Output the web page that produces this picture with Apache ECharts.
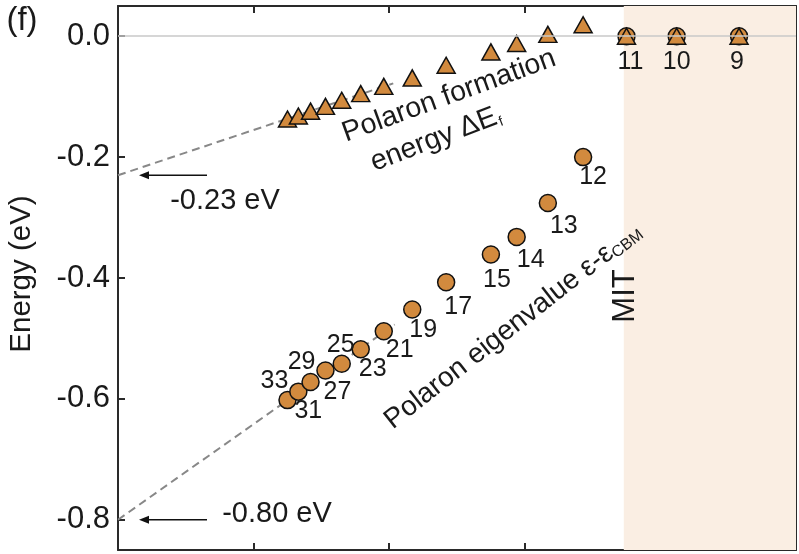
<!DOCTYPE html>
<html>
<head>
<meta charset="utf-8">
<script src="https://cdn.jsdelivr.net/npm/echarts@6/dist/echarts.min.js"></script>
<style>
  html, body { margin: 0; padding: 0; background: #fff; }
  #chart { width: 799px; height: 554px; }
</style>
</head>
<body>
<div id="chart"></div>
<script>
// Supercell sizes N and their inverse-size coordinate (hidden x scale)
const cellSizes   = [33, 31, 29, 27, 25, 23, 21, 19, 17, 15, 14, 13, 12, 11, 10, 9];
const inverseSize = [1.25, 1.33, 1.42, 1.53, 1.65, 1.79, 1.96, 2.17, 2.42, 2.75, 2.94, 3.17, 3.43, 3.75, 4.12, 4.58];
// Polaron formation energy ΔE_f (eV)
const formationEnergy = [-0.137, -0.132, -0.124, -0.116, -0.106, -0.095, -0.083, -0.069, -0.048, -0.026, -0.012, 0.003, 0.019, 0, 0, 0];
// Polaron eigenvalue ε-ε_CBM (eV)
const eigenvalue = [-0.602, -0.588, -0.572, -0.553, -0.542, -0.518, -0.488, -0.452, -0.407, -0.361, -0.332, -0.276, -0.200, 0, 0, 0];
// Linear extrapolations to infinite cell size
const fitFormation = [[0, -0.23], [2.03, -0.078]];
const fitEigen     = [[0, -0.80], [2.04, -0.477]];
const yTicks = [0, -0.2, -0.4, -0.6, -0.8];
const mitStart = 3.73;
const xMax = 5;

// label placement around each circle (px offsets)
const labelOffsets = [[-13, -19], [10, 19], [-9, -20], [12, 22], [-1, -19], [12, 20], [16, 19], [11, 21],
                      [12, 25], [6, 26], [14, 23], [16, 23], [10, 20], [4, 26], [0, 26], [-2, 26]];

const FONT = 'Liberation Sans, Arial, Helvetica, sans-serif';
const ORANGE = '#d28a3e';
const INK = '#1a1a1a';

const chart = echarts.init(document.getElementById('chart'), null, { renderer: 'canvas' });

const frameAxis = {
  axisLine: { show: true, onZero: false, lineStyle: { color: '#2a2a2a', width: 2 } },
  splitLine: { show: false }
};

const xBase = Object.assign({}, frameAxis, {
  type: 'value', min: 0, max: xMax, interval: 1,
  axisTick: { show: true, inside: true, length: 7, lineStyle: { color: '#2a2a2a', width: 2 } },
  axisLabel: { show: false }
});
const yBase = Object.assign({}, frameAxis, {
  type: 'value', min: -0.85, max: 0.05,
  axisTick: { show: true, inside: true, length: 7, customValues: yTicks, lineStyle: { color: '#2a2a2a', width: 2 } }
});

const circleData = inverseSize.map((x, i) => ({
  value: [x, eigenvalue[i]],
  label: { offset: labelOffsets[i] }
}));
const triangleData = inverseSize.map((x, i) => [x, formationEnergy[i]]);

chart.setOption({
  animation: false,
  grid: { left: 118, right: 3, top: 6, bottom: 4, containLabel: false },
  xAxis: [
    Object.assign({}, xBase, { position: 'bottom' }),
    Object.assign({}, xBase, { position: 'top' })
  ],
  yAxis: [
    Object.assign({}, yBase, {
      position: 'left',
      axisLabel: {
        show: true, customValues: yTicks, margin: 8,
        fontFamily: FONT, fontSize: 31, color: INK,
        formatter: v => (Math.abs(v) < 1e-9 ? '0.0' : v.toFixed(1))
      }
    }),
    Object.assign({}, yBase, { position: 'right', axisLabel: { show: false } })
  ],
  series: [
    {
      // metal-insulator transition region
      type: 'line', data: [], z: 0, silent: true,
      markArea: {
        silent: true,
        itemStyle: { color: '#faeee3' },
        data: [[{ xAxis: mitStart, yAxis: -0.85 }, { xAxis: xMax, yAxis: 0.05 }]]
      }
    },
    {
      type: 'line', data: [], z: 1, silent: true,
      markLine: {
        silent: true, symbol: 'none', label: { show: false },
        lineStyle: { color: '#c9c9c9', type: 'solid', width: 1.5 },
        data: [{ yAxis: 0 }]
      }
    },
    {
      type: 'line', data: fitFormation, z: 2, symbol: 'none', silent: true,
      lineStyle: { color: '#888', width: 2, type: [8, 5] }
    },
    {
      type: 'line', data: fitEigen, z: 2, symbol: 'none', silent: true,
      lineStyle: { color: '#888', width: 2, type: [8, 5] }
    },
    {
      name: 'eigenvalue', type: 'scatter', z: 3,
      symbol: 'circle', symbolSize: 17,
      itemStyle: { color: ORANGE, borderColor: '#111', borderWidth: 1.5, opacity: 1 },
      label: {
        show: true, position: 'inside',
        fontFamily: FONT, fontSize: 25, color: INK,
        formatter: p => String(cellSizes[p.dataIndex])
      },
      data: circleData
    },
    {
      name: 'formation', type: 'scatter', z: 4,
      symbol: 'triangle', symbolSize: [18, 16],
      itemStyle: { color: ORANGE, borderColor: '#111', borderWidth: 1.5, opacity: 1 },
      data: triangleData
    }
  ]
});

// annotations
const yPx = v => chart.convertToPixel({ yAxisIndex: 0 }, v);
const xPx = v => chart.convertToPixel({ xAxisIndex: 0 }, v);
const y023 = yPx(-0.23);
const y080 = yPx(-0.80);
const ax0 = xPx(0);

function arrow(y) {
  return [
    { type: 'line', z: 50, shape: { x1: ax0 + 28, y1: y, x2: ax0 + 89, y2: y }, style: { stroke: '#111', lineWidth: 1.5 } },
    { type: 'polygon', z: 50, shape: { points: [[ax0 + 21, y], [ax0 + 31, y - 4], [ax0 + 31, y + 4]] }, style: { fill: '#111' } }
  ];
}
const txt = (x, y, text, size, rot, extra) => ({
  type: 'text', z: 50, x: x, y: y, rotation: rot || 0,
  style: Object.assign({ text: text, fontFamily: FONT, fontSize: size, fill: INK, align: 'center', verticalAlign: 'middle' }, extra || {})
});
const deg = d => d * Math.PI / 180;

chart.setOption({
  graphic: [
    txt(22, 21, '(f)', 33),
    txt(22, 274, 'Energy (eV)', 29.5, Math.PI / 2),
    txt(225, y023 + 26, '-0.23 eV', 29),
    txt(277, y080 - 6, '-0.80 eV', 29),
    ...arrow(y023),
    ...arrow(y080),
    txt(449, 96, 'Polaron formation', 28.5, deg(20)),
    txt(436, 139, '', 28.5, deg(21), {
      text: '{m|energy ΔE}{s|f}',
      rich: {
        m: { fontFamily: FONT, fontSize: 28.5, fill: INK },
        s: { fontFamily: FONT, fontSize: 14, fill: INK, verticalAlign: 'bottom', padding: [0, 0, 0, 1] }
      }
    }),
    txt(513, 326, '', 28, deg(38), {
      text: '{m|Polaron eigenvalue ε-ε}{s|CBM}',
      rich: {
        m: { fontFamily: FONT, fontSize: 28, fill: INK },
        s: { fontFamily: FONT, fontSize: 16, fill: INK, verticalAlign: 'bottom' }
      }
    }),
    txt(625, 296, 'MIT', 31, Math.PI / 2)
  ]
});
</script>
</body>
</html>
